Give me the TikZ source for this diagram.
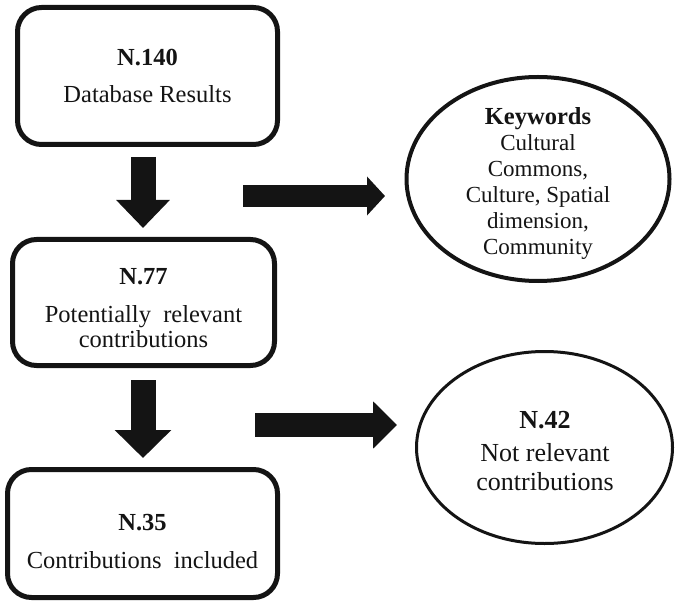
\documentclass[tikz,border=0pt]{standalone}
\usepackage{fontspec}
\setmainfont{Liberation Serif}
\usetikzlibrary{arrows.meta,shapes.geometric,shadows}
\definecolor{ink}{HTML}{141414}
\begin{document}
\begin{tikzpicture}[x=1pt,y=-1pt,
  boxnode/.style={draw=ink, line width=5pt, rounded corners=24pt, fill=white,
    align=center, inner sep=0pt, text=ink,
    font=\fontsize{24.5}{25.5}\selectfont,
    drop shadow={opacity=0.18, shadow xshift=1.5pt, shadow yshift=-2pt}},
  ovalnode/.style={draw=ink, ellipse, fill=white, inner sep=0pt},
  ovaltext/.style={align=center, inner sep=0pt, text=ink},
  blockarrow/.style n args={3}{draw=ink, line width=#1,
    -{Triangle[length=#3 0 0, width=#2 0 0]}}
]
\useasboundingbox (0,0) rectangle (677,612);

% boxes
\node[boxnode, minimum width=260pt, minimum height=137pt] (b1) at (147.5,76)
  {\textbf{N.140}\\[11pt]Database Results};
\node[boxnode, minimum width=262pt, minimum height=126pt] (b2) at (143.5,302.5)
  {\rule{0pt}{28pt}\textbf{N.77}\\[12pt]Potentially\ \ relevant\\contributions};
\node[boxnode, minimum width=270pt, minimum height=128pt] (b3) at (142.5,533.5)
  {\rule{0pt}{32pt}\textbf{N.35}\\[12pt]Contributions\ \ included};

% ellipses
\node[ovalnode, line width=4pt, minimum width=263pt, minimum height=204pt] (kw) at (538,179) {};
\node[ovaltext, font=\fontsize{23}{26}\selectfont] (kwt) at (538,183)
  {{\fontsize{24.5}{26}\selectfont\textbf{Keywords}}\\Cultural\\Commons,\\Culture,\ Spatial\\dimension,\\Community};
\node[ovalnode, line width=3pt, minimum width=256pt, minimum height=192pt] (nr) at (544.5,447.5) {};
\node[ovaltext, font=\fontsize{26}{29}\selectfont] (nrt) at (545,451)
  {\textbf{N.42}\\[4pt]Not relevant\\contributions};

% arrow end points
\coordinate (d1s) at (143,157);
\coordinate (d1e) at (143,228);
\coordinate (d2s) at (143,380);
\coordinate (d2e) at (143,458);
\coordinate (r1s) at (243,196);
\coordinate (r1e) at (385,196);
\coordinate (r2s) at (255,425);
\coordinate (r2e) at (397,425);

\draw[blockarrow={25pt}{52pt}{28pt}] (d1s) -- (d1e);
\draw[blockarrow={25pt}{55pt}{28pt}] (d2s) -- (d2e);
\draw[blockarrow={22pt}{38pt}{18pt}] (r1s) -- (r1e);
\draw[blockarrow={24pt}{46pt}{24pt}] (r2s) -- (r2e);
\end{tikzpicture}
\end{document}
